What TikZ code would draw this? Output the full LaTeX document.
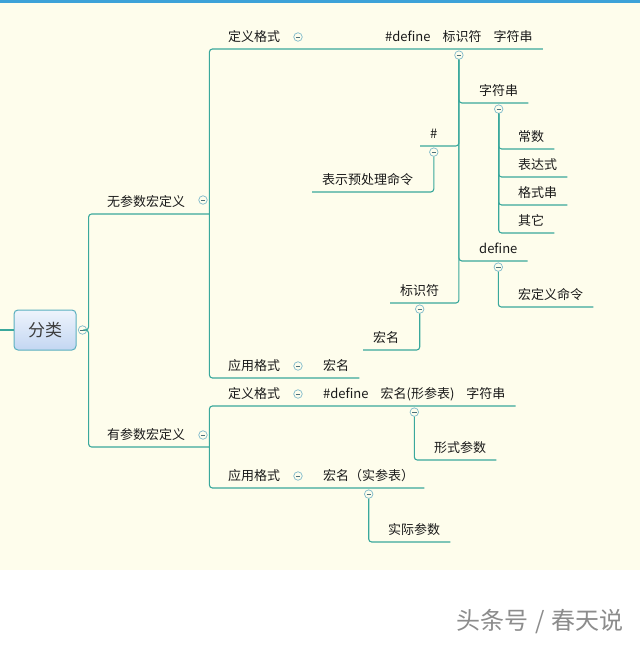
\documentclass[tikz,border=0pt]{standalone}
\usepackage{fontspec}
\newfontfamily\cjk{Noto Sans CJK SC}
\usetikzlibrary{positioning}
\usepackage{xcolor}
\definecolor{paper}{HTML}{FEFDEC}
\definecolor{topbar}{HTML}{3DA2D8}
\definecolor{branch}{HTML}{3AA89C}
\definecolor{foldline}{HTML}{7FBACB}
\definecolor{rootline}{HTML}{5AAFBF}
\definecolor{roottop}{HTML}{EEF4FC}
\definecolor{rootbot}{HTML}{C3D6F2}
\definecolor{ink}{HTML}{1A1A1A}
\tikzset{
  topic/.style={font=\cjk\fontsize{13}{15}\selectfont, text=ink, inner xsep=10pt, inner ysep=4.3pt, text height=10pt, text depth=3pt, anchor=south west},
  branchtopic/.style={topic, text width=#1, align=left},
  link/.style={draw=branch, line width=1.1pt, rounded corners=3pt},
  fold/.style={circle, draw=foldline, fill=paper, line width=0.7pt, inner sep=0pt, minimum size=8.5pt,
    path picture={\draw[foldline!60!black, line width=0.7pt] ([xshift=-2.2pt]path picture bounding box.center) -- ([xshift=2.2pt]path picture bounding box.center);}},
  rootbox/.style={draw=rootline, rounded corners=4pt, line width=1pt, top color=roottop, bottom color=rootbot, minimum width=62pt, minimum height=40pt, font=\cjk\fontsize{17}{20}\selectfont, text=ink!85}
}

\begin{document}
\begin{tikzpicture}[x=1pt, y=-1pt]
  \useasboundingbox (0,0) rectangle (640,645);
  \fill[white] (0,0) rectangle (640,645);
  \fill[paper] (0,3) rectangle (640,570);
  \fill[topbar] (0,0) rectangle (640,3);

  % root
  \node[rootbox] (root) at (45,330) {分类};
  \node[fold] (froot) at (82.5,330) {};
  \coordinate (stem) at (0,330);
  \draw[link] (stem) -- (root.west);

  % first level
  \node[branchtopic=92pt] (nopar) at (97,214) {无参数宏定义};
  \node[branchtopic=92pt] (withpar) at (97,447) {有参数宏定义};
  \node[fold] (fnopar) at (203,200) {};
  \node[fold] (fwithpar) at (203,435) {};
  \draw[link] (froot.east) -- ++(1.5,0) |- (nopar.south east);
  \draw[link] (froot.east) -- ++(1.5,0) |- (withpar.south east);

  % second level with their formats
  \node[branchtopic=66pt] (defA) at (218,49) {定义格式};
  \node[branchtopic=66pt] (useA) at (218,378) {应用格式};
  \node[branchtopic=66pt] (defB) at (218,406) {定义格式};
  \node[branchtopic=66pt] (useB) at (218,488) {应用格式};
  \node[fold] at (298,37) {};
  \node[fold] at (298,366) {};
  \node[fold] at (298,394) {};
  \node[fold] at (298,476) {};
  \node[topic] (fmtA) at (375,49) {\#define\hspace{12pt}标识符\hspace{12pt}字符串};
  \node[topic] (nameA) at (313,378) {宏名};
  \node[topic] (fmtB) at (313,406) {\#define\hspace{12pt}宏名(形参表)\hspace{12pt}字符串};
  \node[topic] (nameB) at (313,488) {宏名（实参表）};
  \draw[link] (nopar.south east) |- (defA.south east) -- (fmtA.south east);
  \draw[link] (nopar.south east) |- (useA.south east) -- (nameA.south east);
  \draw[link] (withpar.south east) |- (defB.south east) -- (fmtB.south east);
  \draw[link] (withpar.south east) |- (useB.south east) -- (nameB.south east);
  \node[fold, below=1.5pt of fmtA.south] (ffmtA) {};
  \node[fold, below=1.5pt of fmtB.south] (ffmtB) {};
  \node[fold, below=1.5pt of nameB.south] (fnameB) {};

  % parts of the simple format
  \node[topic] (strA) at (469,103) {字符串};
  \node[topic] (hash) at (420,146) {\#};
  \node[topic] (defw) at (469,261) {define};
  \node[topic] (ident) at (390,303) {标识符};
  \draw[link] (ffmtA.south) |- (strA.south east);
  \draw[link] (ffmtA.south) |- (hash.south west);
  \draw[link] (ffmtA.south) |- (defw.south east);
  \draw[link] (ffmtA.south) |- (ident.south west);
  \node[fold, below=1.5pt of strA.south] (fstrA) {};
  \node[fold, below=1.5pt of hash.south] (fhash) {};
  \node[fold, below=1.5pt of defw.south] (fdefw) {};
  \node[fold, below=1.5pt of ident.south] (fident) {};

  % leaves
  \foreach \word/\y [count=\i] in {常数/149, 表达式/177, 格式串/205, 其它/233} {
    \node[topic] (kind\i) at (508,\y) {\word};
    \draw[link] (fstrA.south) |- (kind\i.south east);
  }
  \node[topic] (prep) at (312,192) {表示预处理命令};
  \draw[link] (fhash.south) |- (prep.south west);
  \node[topic] (macro) at (508,307) {宏定义命令};
  \draw[link] (fdefw.south) |- (macro.south east);
  \node[topic] (mname) at (363,350) {宏名};
  \draw[link] (fident.south) |- (mname.south west);
  \node[topic] (formal) at (424,460) {形式参数};
  \draw[link] (ffmtB.south) |- (formal.south east);
  \node[topic] (actual) at (378,542) {实际参数};
  \draw[link] (fnameB.south) |- (actual.south east);

  % watermark
  \node[font=\cjk\fontsize{24}{26}\selectfont, text=black!45] (mark) at (540,622) {头条号\hspace{7pt}/\hspace{7pt}春天说};
\end{tikzpicture}
\end{document}
